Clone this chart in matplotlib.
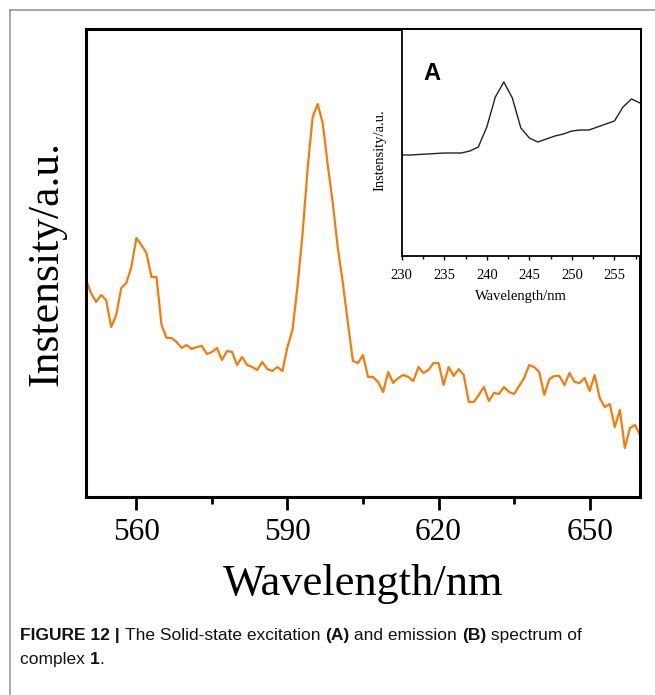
import matplotlib
matplotlib.use("Agg")
import matplotlib.pyplot as plt
from matplotlib.lines import Line2D
from matplotlib.ticker import MultipleLocator

# Emission spectrum (B) (arbitrary units)
em_wavelength = list(range(550, 661))
em_intensity = [217, 204, 195, 202, 197, 170, 182, 209, 214, 230,
                259, 252, 244, 220, 220, 172, 159, 159, 155, 149,
                152, 148, 150, 151, 143, 145, 149, 137, 146, 145,
                132, 140, 132, 130, 127, 135, 128, 126, 130, 126,
                150, 167, 211, 263, 328, 380, 393, 374, 332, 294,
                249, 214, 174, 136, 134, 142, 120, 120, 115, 105,
                125, 114, 119, 122, 120, 116, 130, 124, 127, 134,
                134, 112, 130, 121, 128, 122, 95, 95, 102, 110,
                96, 104, 103, 110, 105, 103, 111, 119, 132, 130,
                125, 102, 118, 121, 121, 112, 124, 115, 114, 119,
                106, 122, 99, 90, 93, 70, 87, 49, 69, 72,
                62]

# Excitation spectrum (A), inset
ex_wavelength = list(range(230, 259))
ex_intensity = [101, 101, 101.5, 102, 102.5, 103, 103, 103, 105, 109,
                129, 159, 174, 158, 128, 118, 114, 117, 120, 122,
                125, 126, 126, 129, 132, 135, 149, 157, 153]

main_ticks = [560, 590, 620, 650]
main_minor_ticks = [575, 605, 635]
inset_ticks = [230, 235, 240, 245, 250, 255]

caption_line1 = [("FIGURE 12 | ", "bold"), ("The Solid-state excitation ", "normal"),
                 ("(A)", "bold"), (" and emission ", "normal"), ("(B)", "bold"),
                 (" spectrum of", "normal")]
caption_line2 = [("complex ", "normal"), ("1", "bold"), (".", "normal")]

serif = "Liberation Serif"
caption_font = ["Liberation Sans", "DejaVu Sans"]


def main():
    fig = plt.figure(figsize=(6.55, 6.95), dpi=100)

    # page frame lines (top and left)
    fig.add_artist(Line2D([10 / 655, 1], [1 - 10 / 695, 1 - 10 / 695], color="#999999", lw=1.2))
    fig.add_artist(Line2D([10 / 655, 10 / 655], [0, 1 - 10 / 695], color="#999999", lw=1.2))

    # Main emission plot
    ax = fig.add_axes([86 / 655, 1 - 497 / 695, 554 / 655, 468 / 695])
    ax.plot(em_wavelength, em_intensity, color="#F57C0A", lw=1.6)
    ax.set_xlim(550, 660)
    ax.set_ylim(0, 468)
    ax.set_xticks(main_ticks)
    ax.set_xticks(main_minor_ticks, minor=True)
    ax.set_yticks([])
    ax.tick_params(axis="x", which="major", direction="out", length=9, width=2, pad=6)
    ax.tick_params(axis="x", which="minor", direction="out", length=5, width=2)
    for lbl in ax.get_xticklabels():
        lbl.set_fontfamily(serif)
        lbl.set_fontsize(22.5)
    for sp in ax.spines.values():
        sp.set_linewidth(2.2)
    ax.set_xlabel("Wavelength/nm", fontfamily=serif, fontsize=32, labelpad=12)
    ax.set_ylabel("Instensity/a.u.", fontfamily=serif, fontsize=31.5, labelpad=14)
    ax.text(136, 349, "B", fontsize=18, fontweight="bold", fontfamily="Liberation Sans",
            ha="center", va="center")

    # Inset excitation plot
    ins = fig.add_axes([401.7 / 655, 1 - 256 / 695, 238.3 / 655, 226 / 695])
    ins.plot(ex_wavelength, ex_intensity, color="#222222", lw=1.0)
    ins.set_xlim(230, 258)
    ins.set_ylim(0, 226)
    ins.set_xticks(inset_ticks)
    ins.xaxis.set_minor_locator(MultipleLocator(2.5))
    ins.set_yticks([])
    ins.tick_params(axis="x", which="major", direction="out", length=3, width=1, pad=6)
    ins.tick_params(axis="x", which="minor", direction="out", length=2, width=1)
    for lbl in ins.get_xticklabels():
        lbl.set_fontfamily(serif)
        lbl.set_fontsize(10.5)
    for sp in ins.spines.values():
        sp.set_linewidth(1.3)
    ins.spines["top"].set_visible(False)
    ins.spines["right"].set_visible(False)
    ins.set_xlabel("Wavelength/nm", fontfamily=serif, fontsize=10.5, labelpad=6)
    ins.set_ylabel("Instensity/a.u.", fontfamily=serif, fontsize=10.5)
    ins.yaxis.set_label_coords(-0.065, 0.47)
    ins.text(233.5, 182, "A", fontsize=17, fontweight="bold", fontfamily="Liberation Sans",
             ha="center", va="center")

    # Caption with mixed weights, placed piece by piece
    renderer = fig.canvas.get_renderer()
    for line, y_px in ((caption_line1, 640), (caption_line2, 664)):
        x = 20 / 655
        for text, weight in line:
            t = fig.text(x, 1 - y_px / 695, text, fontsize=12.5, fontweight=weight,
                         family=caption_font, ha="left", va="baseline", color="#111111")
            bb = t.get_window_extent(renderer)
            x += bb.width / fig.bbox.width

    fig.savefig("out.png", dpi=100)


if __name__ == "__main__":
    main()
